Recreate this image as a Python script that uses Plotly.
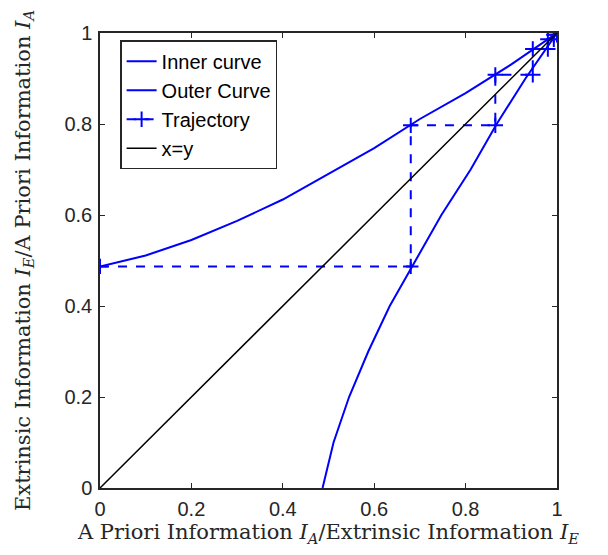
import plotly.graph_objects as go

# Transfer characteristic sampled at I_A = 0, 0.1, ..., 1
ia_grid = [0.0, 0.1, 0.2, 0.3, 0.4, 0.5, 0.6, 0.7, 0.8, 0.9, 1.0]
ie_inner = [0.487, 0.511, 0.545, 0.587, 0.634, 0.69, 0.747, 0.811, 0.868, 0.931, 1.0]

# Outer curve: mirrored (axes swapped)
outer_x = ie_inner
outer_y = ia_grid

# Decoding trajectory
traj_x = [0.0, 0.68, 0.68, 0.865, 0.865, 0.947, 0.947, 0.98, 0.98, 0.993, 0.993, 1.0]
traj_y = [0.487, 0.487, 0.797, 0.797, 0.908, 0.908, 0.965, 0.965, 0.986, 0.986, 0.996, 0.996]

diag = [0.0, 1.0]

tick_vals = [0, 0.2, 0.4, 0.6, 0.8, 1]
tick_text = ["0", "0.2", "0.4", "0.6", "0.8", "1"]

BLUE = "#0000ff"
fig = go.Figure()
fig.add_trace(go.Scatter(x=ia_grid, y=ie_inner, mode="lines", name="Inner curve",
                         line=dict(color=BLUE, width=2)))
fig.add_trace(go.Scatter(x=outer_x, y=outer_y, mode="lines", name="Outer Curve",
                         line=dict(color=BLUE, width=2)))
fig.add_trace(go.Scatter(x=traj_x, y=traj_y, mode="lines+markers", name="Trajectory",
                         line=dict(color=BLUE, width=2, dash="dash"),
                         marker=dict(symbol="cross-thin", size=11,
                                     line=dict(color=BLUE, width=2))))
fig.add_trace(go.Scatter(x=diag, y=diag, mode="lines", name="x=y",
                         line=dict(color="black", width=1.5)))

axis_common = dict(
    range=[0, 1], tickvals=tick_vals, ticktext=tick_text,
    showgrid=False, zeroline=False, showline=True, linecolor="#262626",
    linewidth=1.5, mirror="ticks", ticks="inside", ticklen=5, tickwidth=1,
    tickcolor="#262626", tickfont=dict(family="Liberation Sans, Arial", size=20, color="#262626"),
)
title_font = dict(family="DejaVu Serif", size=21, color="#262626")

fig.update_layout(
    width=608, height=555,
    margin=dict(l=100, r=51, t=33, b=67),
    paper_bgcolor="white", plot_bgcolor="white",
    xaxis=dict(**axis_common, ticklabelstandoff=2,
               title=dict(text="A Priori Information <i>I</i><sub><i>A</i></sub>/Extrinsic Information <i>I</i><sub><i>E</i></sub>",
                          font=title_font, standoff=6)),
    yaxis=dict(**axis_common, ticklabelstandoff=2,
               title=dict(text="Extrinsic Information <i>I</i><sub><i>E</i></sub>/A Priori Information <i>I</i><sub><i>A</i></sub>",
                          font=title_font, standoff=28)),
    legend=dict(x=0.044, y=0.984, xanchor="left", yanchor="top",
                bordercolor="#262626", borderwidth=1.5, bgcolor="white",
                font=dict(family="Liberation Sans, Arial", size=20, color="black"),
                entrywidth=175, entrywidthmode="pixels",
                tracegroupgap=0),
    showlegend=True,
)

fig.write_html("out.html")
